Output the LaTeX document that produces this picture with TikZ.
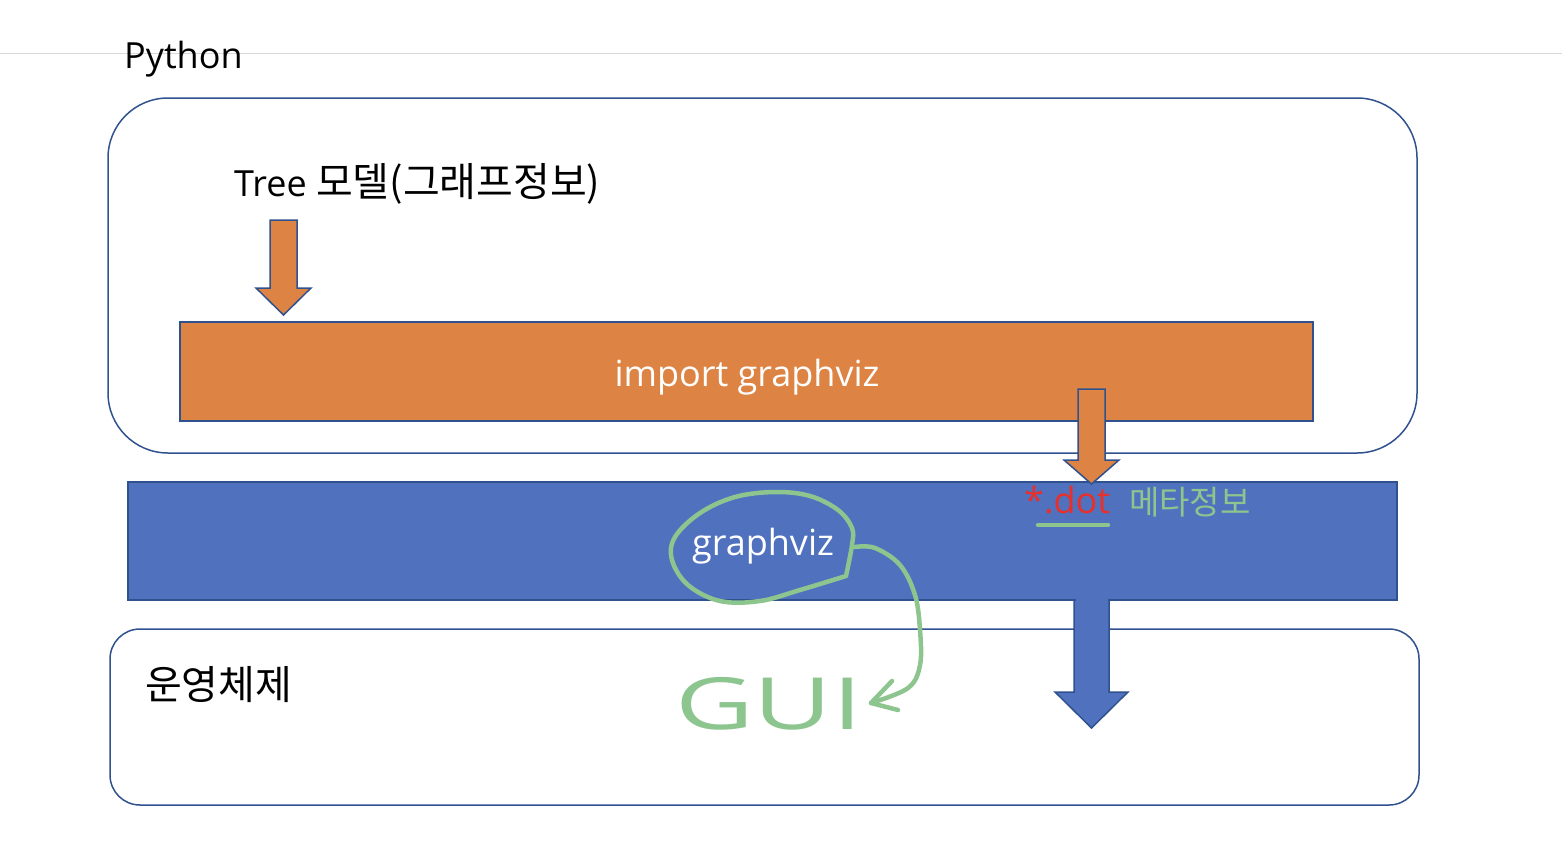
\documentclass[tikz,border=0pt]{standalone}
\usepackage{fontspec}
\setmainfont{Open Sans}
\newfontfamily\kr{Noto Sans CJK KR}[Scale=1.11]
\newfontfamily\krhand{Noto Sans CJK KR}
\usetikzlibrary{calc}
\definecolor{edge}{HTML}{2F528F}
\definecolor{orng}{HTML}{DD8343}
\definecolor{blu}{HTML}{4F71BE}
\definecolor{pen}{HTML}{8DC58F}
\definecolor{dotred}{HTML}{E8302A}
\definecolor{rule}{HTML}{D9D9D9}
\tikzset{
  panel/.style={draw=edge, line width=1.5pt},
  bar/.style={draw=edge, line width=1.5pt},
  blockarrow/.style={draw=edge, line width=1.5pt, line join=miter},
  label/.style={inner sep=0pt, anchor=base west, font=\fontsize{36}{40}\selectfont},
  ink/.style={draw=pen, line width=4.5pt, line cap=round, line join=round},
}
\begin{document}
\begin{tikzpicture}[x=1pt,y=-1pt]
\useasboundingbox (0,0) rectangle (1562,854);
% top rule
\draw[rule, line width=1pt] (0,53) -- (1562,53);
\node[label] (python) at (124,68) {Python};
% Python panel
\draw[panel, rounded corners=60pt] (108,98) rectangle (1417,453);
\node[label] (tree) at (234,196) {Tree {\kr 모델(그래프정보)}};
% arrow 1
\draw[blockarrow, fill=orng] (270,220) -- (297,220) -- (297,288) -- (311,288) -- (283.5,315) -- (256,288) -- (270,288) -- cycle;
% import graphviz bar
\draw[bar, fill=orng] (180,322) rectangle (1313,421);
\node[label, text=white, anchor=base] (imp) at (747,386) {import graphviz};
% OS panel
\draw[panel, rounded corners=30pt] (110,629) rectangle (1419,805);
\node[label] (os) at (145,699) {\kr 운영체제};
% blue bar
\draw[bar, fill=blu] (128,482) rectangle (1397,600);
% arrow 2 (orange)
\draw[blockarrow, fill=orng] (1078,389) -- (1105,389) -- (1105,460) -- (1119,460) -- (1091.5,484) -- (1064,460) -- (1078,460) -- cycle;
% blue arrow
\draw[blockarrow, fill=blu] (1074,600) -- (1109,600) -- (1109,692) -- (1128,692) -- (1091.5,728) -- (1055,692) -- (1074,692) -- cycle;
\fill[blu] (1075.5,598) rectangle (1107.5,603);
\node[label, text=white, anchor=base] (gv) at (763,555) {graphviz};
\node[label, text=dotred] (dot) at (1024,513) {*.dot};
\draw[ink] (1038,525) -- (1108,525);
\node[inner sep=0pt, anchor=base west, text=pen, font=\fontsize{33}{36}\selectfont\krhand] (meta) at (1129,514) {메타정보};
% hand-drawn loop around graphviz
\draw[ink] plot[smooth, tension=0.6] coordinates {
 (846,576) (852,545) (852,528) (838,510) (810,496) (775,492) (735,497) (700,513) (675,537) (672,560) (688,585) (720,601) (760,601) (800,590) (846,576)};
% arrow stroke to GUI
\draw[ink] plot[smooth, tension=0.6] coordinates {(855,547) (875,548) (900,565) (915,595) (920,630) (920,665) (908,688) (871,703)};
\draw[ink] (892,681) -- (871,703) -- (898,710);
\node[inner sep=0pt, anchor=base, text=pen, font=\fontsize{72}{76}\selectfont, xscale=1.5, transform shape] (gui) at (769,729) {GUI};
\end{tikzpicture}
\end{document}
